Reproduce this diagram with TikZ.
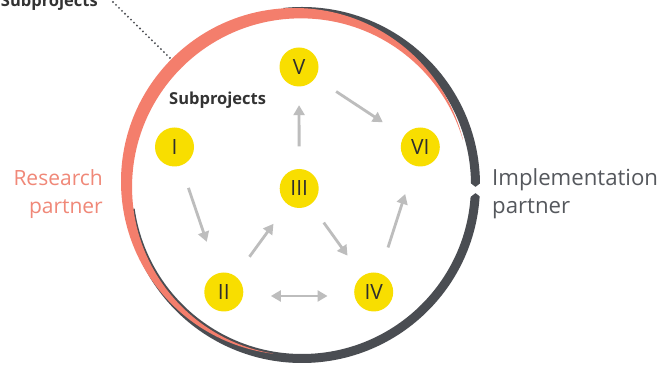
\documentclass[tikz,border=0pt]{standalone}
\usepackage{fontspec}
\setmainfont{Open Sans}
\usetikzlibrary{arrows.meta}
\definecolor{salmon}{HTML}{F47E6C}
\definecolor{darkring}{HTML}{4A4D52}
\definecolor{subyellow}{HTML}{F8DE00}
\definecolor{arrgray}{HTML}{BDBDBD}
\definecolor{numtext}{HTML}{2E2E2E}
\definecolor{labeltext}{HTML}{333333}
\definecolor{restext}{HTML}{F08878}
\definecolor{impltext}{HTML}{55585D}
\begin{document}
\begin{tikzpicture}[x=1pt,y=1pt,
  sub/.style={circle,fill=subyellow,minimum size=39pt,inner sep=0pt,
    font=\fontsize{21}{21}\selectfont,text=numtext},
  arr/.style={draw=arrgray,line width=2.8pt,-{Triangle[length=10pt,width=11pt]}},
  arrboth/.style={draw=arrgray,line width=2.8pt,{Triangle[length=10pt,width=11pt]}-{Triangle[length=10pt,width=11pt]}},
  boldlabel/.style={font=\bfseries\fontsize{16.5}{16.5}\selectfont,text=labeltext,inner sep=0pt},
  reslabel/.style={font=\fontsize{21}{21}\selectfont,text=restext,inner sep=0pt,anchor=base east},
  impllabel/.style={font=\fontsize{22.2}{22.2}\selectfont,text=impltext,inner sep=0pt,anchor=base west},
  leader/.style={draw=darkring,line width=2.1pt,line cap=round,dash pattern=on 0pt off 4.2pt}]
\useasboundingbox (0,0) rectangle (661,366);
\fill[white] (0,0) rectangle (661,366);

% dark ring (implementation partner)
\begin{scope}
  \clip (302,181) -- ++(-172:260) arc[start angle=-172,end angle=96,radius=260] -- cycle;
  \fill[darkring,even odd rule] (302,181) circle[radius=178] (302,181) circle[radius=169];
\end{scope}
% notch in the dark ring
\fill[white] (466,186) -- (475.5,179) -- (485,186) -- (485,166) -- (475.5,173) -- (466,166) -- cycle;

% salmon crescent (research partner)
\begin{scope}
  \clip (294.5,184.5) -- ++(14:260) arc[start angle=14,end angle=263,radius=260] -- cycle;
  \fill[salmon,even odd rule] (294.5,184.5) circle[radius=173.5] (300.8,178.9) circle[radius=168.75];
\end{scope}

% subprojects
\node[sub] (V) at (299,299) {V};
\node[sub] (I) at (174.5,219) {I};
\node[sub] (VI) at (420.3,219) {VI};
\node[sub] (III) at (299.2,177.5) {III};
\node[sub] (II) at (223.8,74) {II};
\node[sub] (IV) at (373.7,74) {IV};

% arrows
\draw[arr,shorten <=24.8pt,shorten >=25.2pt] (V) -- (VI);
\draw[arr,shorten <=22.3pt,shorten >=18.5pt] (III) -- (V);
\draw[arr,shorten <=23.5pt,shorten >=33.3pt] (I) -- (II);
\draw[arr,shorten <=23.9pt,shorten >=24pt] (II) -- (III);
\draw[arr,shorten <=22.3pt,shorten >=25.1pt] (III) -- (IV);
\draw[arr,shorten <=27.1pt,shorten >=29.7pt] (IV) -- (VI);
\draw[arrboth,shorten <=27.4pt,shorten >=26.5pt] ([yshift=-4pt]II.east) -- ([yshift=-4pt]IV.west);

% labels
\node[boldlabel,anchor=base west] (sublabel) at (169,261) {Subprojects};
\node[boldlabel,anchor=base east] (subtop) at (98,359) {Subprojects};
\coordinate (dotA) at (113,364);
\coordinate (dotB) at (172,306);
\draw[leader] (dotA) -- (dotB);

\node[reslabel] (res1) at (103,180) {Research};
\node[reslabel] (res2) at (103,152) {partner};
\node[impllabel] (impl1) at (492,180) {Implementation};
\node[impllabel] (impl2) at (492,152) {partner};
\end{tikzpicture}
\end{document}
